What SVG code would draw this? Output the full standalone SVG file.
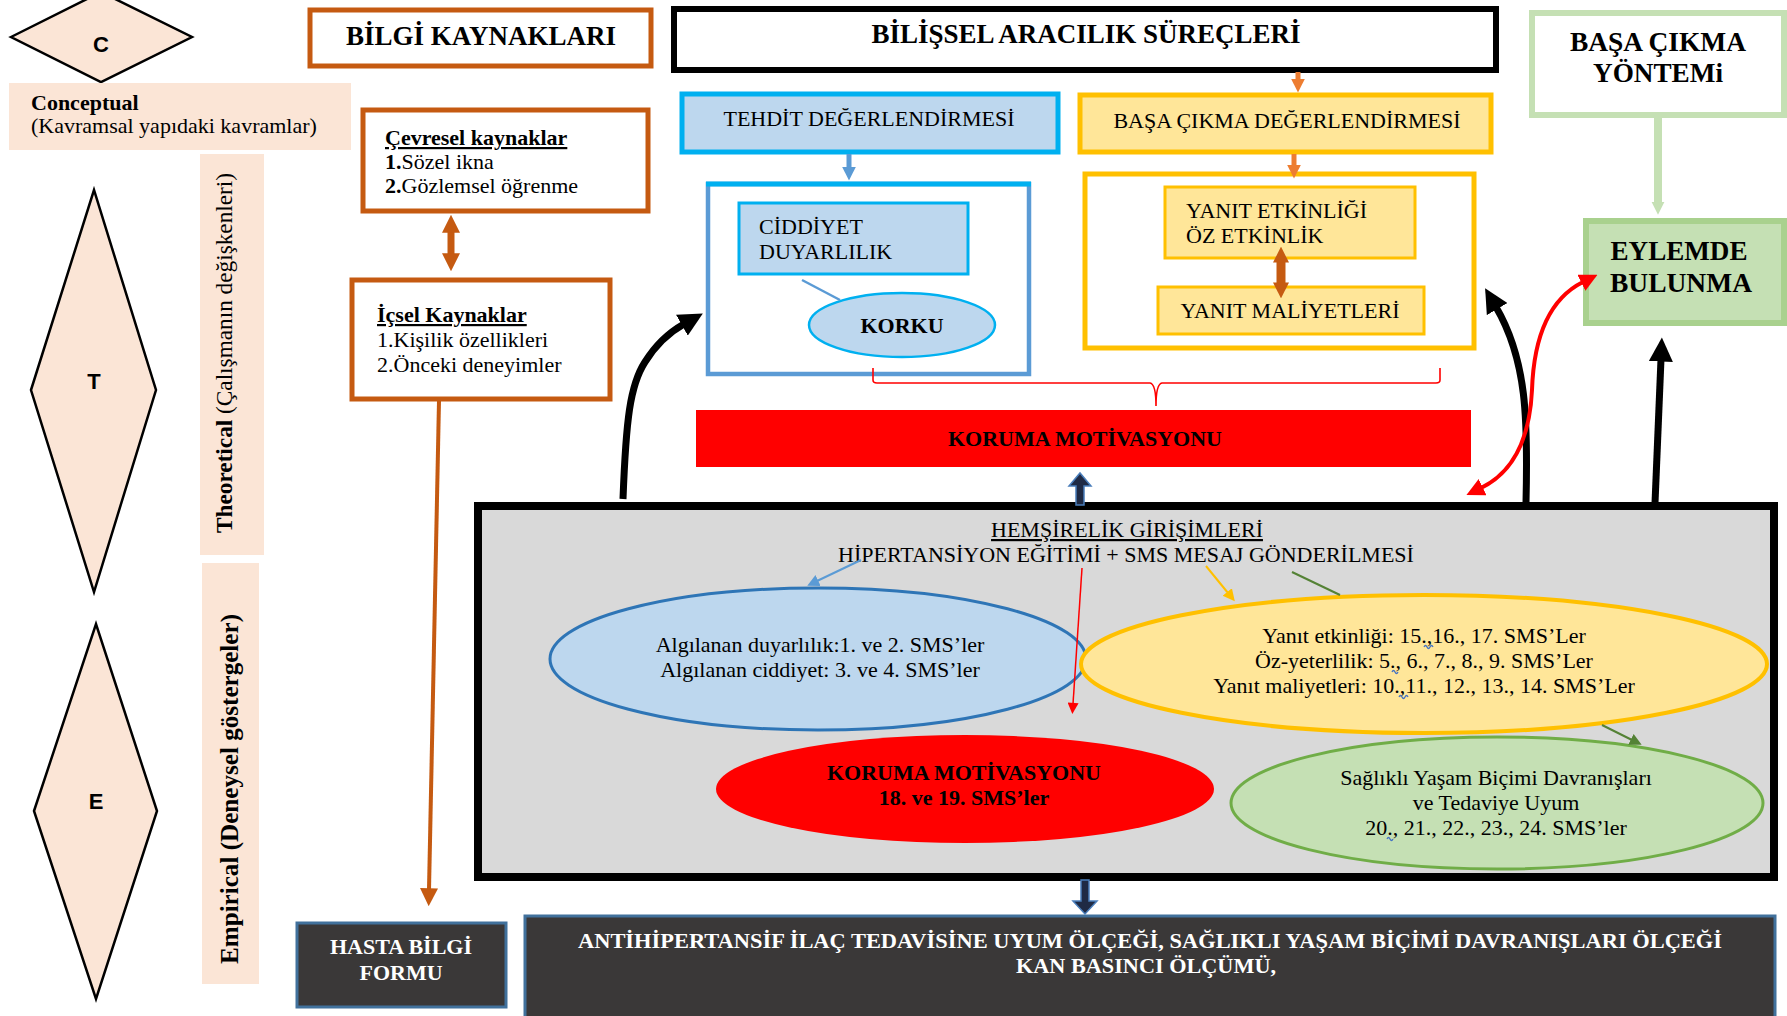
<svg xmlns="http://www.w3.org/2000/svg" width="1787" height="1016" viewBox="0 0 1787 1016">
<defs>
<style>
text{font-family:"Liberation Serif","Times New Roman",serif;font-size:22px;fill:#000}
.b{font-weight:bold}
.m{text-anchor:middle}
.h{font-size:27px;font-weight:bold}
.sans{font-family:"Liberation Sans",Arial,sans-serif;font-weight:bold;font-size:22px}
.w{fill:#fff}
.u{text-decoration:underline}
.peach{fill:#FBE5D6}
.dia{fill:#FBE5D6;stroke:#000;stroke-width:2.5}
.ob{fill:#fff;stroke:#C55A11;stroke-width:5}
.dark{fill:#3A3838;stroke:#41719C;stroke-width:3}
.sq{fill:none;stroke:#4472C4;stroke-width:1.3}
.f23{font-size:23px}
.f25{font-size:25px}
.f27{font-size:27px}
.f28{font-size:28px}
</style>
<marker id="hOr" markerUnits="userSpaceOnUse" viewBox="0 0 10 10" refX="1" refY="5" markerWidth="18" markerHeight="21" orient="auto-start-reverse"><path d="M0,0L10,5L0,10z" fill="#C55A11"/></marker>
<marker id="hOr2" markerUnits="userSpaceOnUse" viewBox="0 0 10 10" refX="1" refY="5" markerWidth="16" markerHeight="22" orient="auto-start-reverse"><path d="M0,0L10,5L0,10z" fill="#C55A11"/></marker>
<marker id="hOrL" markerUnits="userSpaceOnUse" viewBox="0 0 10 10" refX="1" refY="5" markerWidth="14" markerHeight="18" orient="auto"><path d="M0,0L10,5L0,10z" fill="#ED7D31"/></marker>
<marker id="hBl" markerUnits="userSpaceOnUse" viewBox="0 0 10 10" refX="1" refY="5" markerWidth="14" markerHeight="16" orient="auto"><path d="M0,0L10,5L0,10z" fill="#5B9BD5"/></marker>
<marker id="hGr" markerUnits="userSpaceOnUse" viewBox="0 0 10 10" refX="1" refY="5" markerWidth="13" markerHeight="25" orient="auto"><path d="M0,0L10,5L0,10z" fill="#C5E0B4"/></marker>
<marker id="hBk" markerUnits="userSpaceOnUse" viewBox="0 0 10 10" refX="1" refY="5" markerWidth="24" markerHeight="24" orient="auto"><path d="M0,0L10,5L0,10z" fill="#000"/></marker>
<marker id="hRd" markerUnits="userSpaceOnUse" viewBox="0 0 10 10" refX="1" refY="5" markerWidth="18" markerHeight="18" orient="auto-start-reverse"><path d="M0,0L10,5L0,10z" fill="#FF0000"/></marker>
<marker id="hRdT" markerUnits="userSpaceOnUse" viewBox="0 0 10 10" refX="1" refY="5" markerWidth="14" markerHeight="11" orient="auto"><path d="M0,0L10,5L0,10z" fill="#FF0000"/></marker>
<marker id="hBlT" markerUnits="userSpaceOnUse" viewBox="0 0 10 10" refX="1" refY="5" markerWidth="12" markerHeight="13" orient="auto"><path d="M0,0L10,5L0,10z" fill="#5B9BD5"/></marker>
<marker id="hYeT" markerUnits="userSpaceOnUse" viewBox="0 0 10 10" refX="1" refY="5" markerWidth="12" markerHeight="13" orient="auto"><path d="M0,0L10,5L0,10z" fill="#FFC000"/></marker>
<marker id="hGnT" markerUnits="userSpaceOnUse" viewBox="0 0 10 10" refX="1" refY="5" markerWidth="12" markerHeight="13" orient="auto"><path d="M0,0L10,5L0,10z" fill="#548235"/></marker>
</defs>
<rect width="1787" height="1016" fill="#fff"/>

<!-- left axis -->
<g id="axis-c">
<polygon class="dia" points="11,37 101,-8 192,37 101,82"/>
<text class="sans m" x="101" y="52">C</text>
</g>
<g id="conceptual">
<rect class="peach" x="9" y="83" width="342" height="67"/>
<text class="b" x="31" y="110">Conceptual</text>
<text x="31" y="133">(Kavramsal yapıdaki kavramlar)</text>
</g>
<g id="axis-t">
<polygon class="dia" points="31,390 94,190 156,390 94,592"/>
<text class="sans m" x="94" y="389">T</text>
</g>
<g id="theoretical">
<rect class="peach" x="200" y="154" width="64" height="401"/>
<text class="m f23" transform="translate(232,353) rotate(-90)" textLength="360" lengthAdjust="spacingAndGlyphs"><tspan class="b">Theoretical</tspan> (Çalışmanın değişkenleri)</text>
</g>
<g id="axis-e">
<polygon class="dia" points="34,811 96,624 157,811 96,999"/>
<text class="sans m" x="96" y="809">E</text>
</g>
<g id="empirical">
<rect class="peach" x="202" y="563" width="57" height="421"/>
<text class="b m f25" transform="translate(238,789) rotate(-90)" textLength="350" lengthAdjust="spacingAndGlyphs">Empirical (Deneysel göstergeler)</text>
</g>

<!-- knowledge sources -->
<g id="bilgi-kaynaklari">
<rect class="ob" x="310" y="10" width="341" height="56"/>
<text class="h m" x="481" y="45">BİLGİ KAYNAKLARI</text>
</g>
<g id="cevresel">
<rect class="ob" x="363" y="110" width="285" height="101"/>
<text class="b u" x="385" y="145">Çevresel kaynaklar</text>
<text x="385" y="169"><tspan class="b">1.</tspan>Sözel ikna</text>
<text x="385" y="193"><tspan class="b">2.</tspan>Gözlemsel öğrenme</text>
</g>
<g id="icsel">
<rect class="ob" x="352" y="280" width="258" height="119"/>
<text class="b u" x="377" y="322">İçsel Kaynaklar</text>
<text x="377" y="347">1.Kişilik özellikleri</text>
<text x="377" y="372">2.Önceki deneyimler</text>
</g>
<g id="hasta-bilgi-formu">
<rect class="dark" x="297" y="923" width="209" height="84"/>
<text class="b m w" x="401" y="954">HASTA BİLGİ</text>
<text class="b m w" x="401" y="980">FORMU</text>
</g>

<!-- cognitive -->
<g id="bilissel">
<rect x="674" y="9" width="822" height="61" fill="#fff" stroke="#000" stroke-width="6"/>
<text class="h m" x="1086" y="43">BİLİŞSEL ARACILIK SÜREÇLERİ</text>
</g>
<g id="tehdit">
<rect x="682" y="94" width="376" height="58" fill="#BDD7EE" stroke="#00B0F0" stroke-width="5"/>
<text class="m" x="869" y="126">TEHDİT DEĞERLENDİRMESİ</text>
</g>
<g id="basa-cikma-deg">
<rect x="1080" y="95" width="411" height="57" fill="#FFE699" stroke="#FFC000" stroke-width="5"/>
<text class="m" x="1287" y="128">BAŞA ÇIKMA DEĞERLENDİRMESİ</text>
</g>
<g id="tehdit-container">
<rect x="708" y="184" width="321" height="190" fill="#fff" stroke="#5B9BD5" stroke-width="4.5"/>
<line x1="706" y1="184" x2="1031" y2="184" stroke="#00B0F0" stroke-width="5"/>
</g>
<g id="ciddiyet">
<rect x="739" y="203" width="229" height="71" fill="#BDD7EE" stroke="#00B0F0" stroke-width="3"/>
<text x="759" y="234">CİDDİYET</text>
<text x="759" y="259">DUYARLILIK</text>
</g>
<g id="korku">
<ellipse cx="902" cy="325" rx="93" ry="32" fill="#BDD7EE" stroke="#00B0F0" stroke-width="2.5"/>
<text class="b m" x="902" y="333">KORKU</text>
</g>
<g id="basa-container">
<rect x="1085" y="174" width="389" height="174" fill="#fff" stroke="#FFC000" stroke-width="5"/>
</g>
<g id="yanit-etkinligi">
<rect x="1165" y="187" width="250" height="71" fill="#FFE699" stroke="#FFC000" stroke-width="3"/>
<text x="1186" y="218">YANIT ETKİNLİĞİ</text>
<text x="1186" y="243">ÖZ ETKİNLİK</text>
</g>
<g id="yanit-maliyetleri">
<rect x="1158" y="287" width="266" height="47" fill="#FFE699" stroke="#FFC000" stroke-width="3"/>
<text class="m" x="1290" y="318">YANIT MALİYETLERİ</text>
</g>
<g id="koruma-motivasyonu">
<rect x="696" y="410" width="775" height="57" fill="#FF0000"/>
<text class="b m" x="1085" y="446">KORUMA MOTİVASYONU</text>
</g>

<!-- coping -->
<g id="basa-cikma-yontemi">
<rect x="1532" y="13" width="252" height="102" fill="#fff" stroke="#C5E0B4" stroke-width="6"/>
<text class="b m f27" x="1658" y="51" textLength="176" lengthAdjust="spacingAndGlyphs">BAŞA ÇIKMA</text>
<text class="b m f27" x="1658" y="82" textLength="130" lengthAdjust="spacingAndGlyphs">YÖNTEMi</text>
</g>
<g id="eylemde-bulunma">
<rect x="1586" y="221" width="198" height="102" fill="#C5E0B4" stroke="#A9D18E" stroke-width="6"/>
<text class="b m f28" x="1679" y="260" textLength="137" lengthAdjust="spacingAndGlyphs">EYLEMDE</text>
<text class="b m f28" x="1681" y="292" textLength="142" lengthAdjust="spacingAndGlyphs">BULUNMA</text>
</g>

<!-- interventions -->
<g id="hemsirelik">
<rect x="478" y="506" width="1296" height="371" fill="#D9D9D9" stroke="#000" stroke-width="8"/>
<text class="m u" x="1127" y="537">HEMŞİRELİK GİRİŞİMLERİ</text>
<text class="m" x="1126" y="562">HİPERTANSİYON EĞİTİMİ + SMS MESAJ GÖNDERİLMESİ</text>
</g>
<g id="tehdit-sms">
<ellipse cx="818" cy="659" rx="268" ry="71" fill="#BDD7EE" stroke="#2E75B6" stroke-width="3"/>
<text class="m" x="820" y="652">Algılanan duyarlılık:1. ve 2. SMS’ler</text>
<text class="m" x="820" y="677">Algılanan ciddiyet: 3. ve 4. SMS’ler</text>
</g>
<g id="basa-sms">
<ellipse cx="1424" cy="664" rx="343" ry="69" fill="#FFE699" stroke="#FFC000" stroke-width="4"/>
<text class="m" x="1424" y="643">Yanıt etkinliği: 15.,16., 17. SMS’Ler</text>
<text class="m" x="1424" y="668">Öz-yeterlilik: 5., 6., 7., 8., 9. SMS’Ler</text>
<text class="m" x="1424" y="693">Yanıt maliyetleri: 10.,11., 12., 13., 14. SMS’Ler</text>
</g>
<g id="koruma-sms">
<ellipse cx="965" cy="789" rx="249" ry="54" fill="#FF0000"/>
<text class="b m" x="964" y="780">KORUMA MOTİVASYONU</text>
<text class="b m" x="964" y="805">18. ve 19. SMS’ler</text>
</g>
<g id="saglikli-sms">
<ellipse cx="1497" cy="803" rx="266" ry="66" fill="#C5E0B4" stroke="#70AD47" stroke-width="3"/>
<text class="m" x="1496" y="785">Sağlıklı Yaşam Biçimi Davranışları</text>
<text class="m" x="1496" y="810">ve Tedaviye Uyum</text>
<text class="m" x="1496" y="835">20., 21., 22., 23., 24.  SMS’ler</text>
</g>
<g id="olcekler">
<rect class="dark" x="525" y="916" width="1250" height="110"/>
<text class="b m w" x="1150" y="948" textLength="1144" lengthAdjust="spacingAndGlyphs">ANTİHİPERTANSİF İLAÇ TEDAVİSİNE UYUM ÖLÇEĞİ, SAĞLIKLI YAŞAM BİÇİMİ DAVRANIŞLARI ÖLÇEĞİ</text>
<text class="b m w" x="1146" y="973" textLength="260" lengthAdjust="spacingAndGlyphs">KAN BASINCI ÖLÇÜMÜ,</text>
</g>

<!-- connectors -->
<g id="connectors" fill="none">
<line x1="451" y1="231" x2="451" y2="255" stroke="#C55A11" stroke-width="7" marker-start="url(#hOr)" marker-end="url(#hOr)"/>
<line x1="439" y1="401" x2="429" y2="890" stroke="#C55A11" stroke-width="4" marker-end="url(#hOr)"/>
<line x1="1298" y1="72" x2="1298" y2="80" stroke="#ED7D31" stroke-width="5" marker-end="url(#hOrL)"/>
<line x1="849" y1="154" x2="849" y2="168" stroke="#5B9BD5" stroke-width="5" marker-end="url(#hBl)"/>
<line x1="1294" y1="154" x2="1294" y2="166" stroke="#ED7D31" stroke-width="5" marker-end="url(#hOrL)"/>
<line x1="1281" y1="261" x2="1281" y2="284" stroke="#C55A11" stroke-width="9" marker-start="url(#hOr2)" marker-end="url(#hOr2)"/>
<line x1="802" y1="280" x2="840" y2="300" stroke="#5B9BD5" stroke-width="2.5"/>
<path d="M873,368 L873,380 Q873,383 877,383 L1150,383 Q1156,384 1156,406 Q1156,384 1162,383 L1436,383 Q1440,383 1440,380 L1440,368" stroke="#FF0000" stroke-width="1.6"/>
<line x1="1658" y1="117" x2="1658" y2="203" stroke="#C5E0B4" stroke-width="8" marker-end="url(#hGr)"/>
<path d="M623,499 C626,420 630,385 645,362 C655,346 668,333 684,324" stroke="#000" stroke-width="7" marker-end="url(#hBk)"/>
<path d="M1526,503 C1528,420 1527,360 1496,307" stroke="#000" stroke-width="7" marker-end="url(#hBk)"/>
<path d="M1655,503 L1661,359" stroke="#000" stroke-width="7" marker-end="url(#hBk)"/>
<path d="M1481,488 C1518,470 1530,432 1532,390 C1534,330 1553,297 1583,282" stroke="#FF0000" stroke-width="4" marker-start="url(#hRd)" marker-end="url(#hRd)"/>
<polygon points="1076,505 1076,486 1069,486 1080,473 1091,486 1084,486 1084,505" fill="#1F2A44" stroke="#4A7EBB" stroke-width="1.5"/>
<polygon points="1081,880 1081,901 1073,901 1085,914 1097,901 1089,901 1089,880" fill="#1F2A44" stroke="#4A7EBB" stroke-width="1.5"/>
<line x1="861" y1="560" x2="817" y2="581" stroke="#5B9BD5" stroke-width="2" marker-end="url(#hBlT)"/>
<line x1="1082" y1="568" x2="1073" y2="704" stroke="#FF0000" stroke-width="1.5" marker-end="url(#hRdT)"/>
<line x1="1206" y1="566" x2="1228" y2="593" stroke="#FFC000" stroke-width="2" marker-end="url(#hYeT)"/>
<line x1="1292" y1="572" x2="1340" y2="595" stroke="#548235" stroke-width="2"/>
<line x1="1602" y1="725" x2="1632" y2="740" stroke="#548235" stroke-width="2" marker-end="url(#hGnT)"/>
</g>

<!-- spelling marks -->
<g id="marks">
<path class="sq" d="M1424,647 q1.5,-3 3,0 t3,0 t3,0"/>
<path class="sq" d="M1392,672 q1.5,-3 3,0 t3,0"/>
<path class="sq" d="M1399,697 q1.5,-3 3,0 t3,0 t3,0"/>
<path class="sq" d="M1387,839 q1.5,-3 3,0 t3,0"/>
</g>
</svg>
